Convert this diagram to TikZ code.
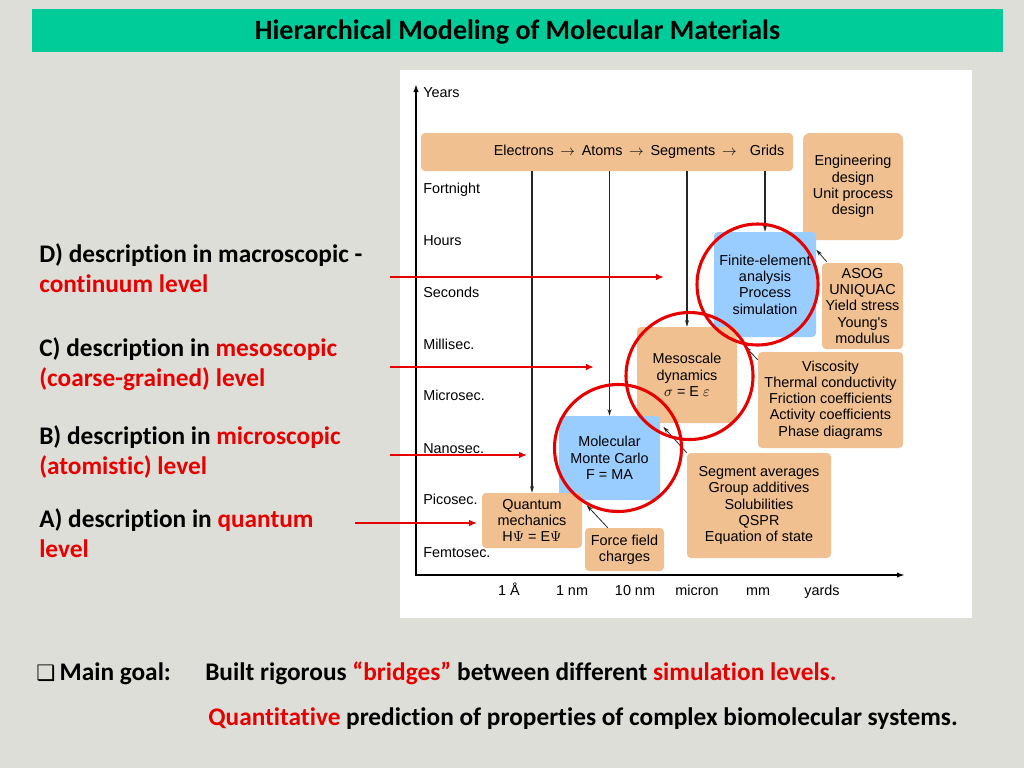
\documentclass[tikz,border=0pt]{standalone}
\usepackage{fontspec}
\setmainfont{Carlito}[Ligatures=NoCommon]
\newfontfamily\diagfont{Liberation Sans}
\newfontfamily\symbolfont{DejaVu Sans}
\usetikzlibrary{arrows.meta}
\definecolor{slideGray}{RGB}{222,222,217}
\definecolor{titleGreen}{RGB}{0,204,153}
\definecolor{boxOrange}{RGB}{240,192,144}
\definecolor{boxBlue}{RGB}{153,204,255}
\definecolor{slideRed}{RGB}{230,0,0}

\begin{document}
\begin{tikzpicture}
[x=0.75pt,y=-0.75pt,
  boxSize/.style 2 args={minimum width=#1*0.75pt,minimum height=#2*0.75pt},%
  boxDecorate/.style={rectangle,rounded corners=3pt,inner sep=0pt,align=center,
    font=\diagfont\fontsize{10.8}{12.2}\selectfont},%
  orangeBox/.style={boxDecorate,fill=boxOrange},%
  blueBox/.style={boxDecorate,fill=boxBlue},%
  tickLabel/.style={inner sep=0pt,font=\diagfont\fontsize{10.8}{12.2}\selectfont},%
  connectDecorate/.style={-{Stealth[length=5pt,width=3pt]},line width=1pt,black!85},%
  axisDecorate/.style={{Latex[length=6pt,width=4pt]}-{Latex[length=6pt,width=4pt]},line width=1.4pt},%
  ringDecorate/.style={circle,draw=slideRed,line width=2.3pt,inner sep=0pt},%
  pointerDecorate/.style={-{Latex[length=6pt,width=5pt]},line width=1.5pt,slideRed},%
  slideText/.style={inner sep=0pt,align=left,anchor=west,
    font=\bfseries\fontsize{19}{22.5}\selectfont}]
%% slide background and title
\useasboundingbox (0,0) rectangle (1024,768);
\fill[slideGray] (0,0) rectangle (1024,768);
\node[fill=titleGreen,boxSize={971}{43},inner sep=0pt,text height=14pt,text depth=0pt,
  font=\bfseries\fontsize{21}{25}\selectfont] (title) at (517.5,30.5)
  {Hierarchical Modeling of Molecular Materials};
\fill[white] (400,70) rectangle (972,618);
%% axes
\coordinate (origin) at (416,575);
\coordinate (yEnd) at (416,84);
\coordinate (xEnd) at (905,575);
\draw[axisDecorate] (yEnd) -- (origin) -- (xEnd);
\foreach \tname/\ty in {Years/92, Fortnight/188, Hours/240, Seconds/292,
  Millisec./344, Microsec./395, Nanosec./448, Picosec./499, Femtosec./552} {
  \node[tickLabel,anchor=base west] (ylab\ty) at (423,\ty+5) {\tname};
}
\foreach \tname/\tx in {1 Å/509, 1 nm/572, 10 nm/635, micron/697, mm/758, yards/822} {
  \node[tickLabel,anchor=base] (xlab\tx) at (\tx,595) {\tname};
}
%% boxes
\node[orangeBox,boxSize={372}{38},text width=266pt,inner xsep=6.5pt,align=right]
  (band) at (607,152) {Electrons\hspace{5pt}$\rightarrow$\hspace{5pt}Atoms\hspace{5pt}$\rightarrow$\hspace{5pt}Segments\hspace{5pt}$\rightarrow$\hspace{10pt}Grids};
\node[orangeBox,boxSize={100}{107},rounded corners=5pt] (eng) at (853,186.5)
  {Engineering\\design\\Unit process\\design};
\node[blueBox,boxSize={102}{105}] (fem) at (765,284.5)
  {Finite-element\\analysis\\Process\\simulation};
\node[orangeBox,boxSize={81}{86}] (asog) at (862.5,306)
  {ASOG\\UNIQUAC\\Yield stress\\Young's\\modulus};
\node[orangeBox,boxSize={100}{96}] (meso) at (687,375)
  {Mesoscale\\dynamics\\$\sigma$ = E $\varepsilon$};
\node[orangeBox,boxSize={145}{96}] (visc) at (830.5,400)
  {Viscosity\\Thermal conductivity\\Friction coefficients\\Activity coefficients\\Phase diagrams};
\node[blueBox,boxSize={101}{84}] (mc) at (609.5,458)
  {Molecular\\Monte Carlo\\F = MA};
\node[orangeBox,boxSize={144}{105}] (seg) at (759,505.5)
  {Segment averages\\Group additives\\Solubilities\\QSPR\\Equation of state};
\node[orangeBox,boxSize={100}{55}] (qm) at (532,520.5)
  {Quantum\\mechanics\\H$\Psi$ = E$\Psi$};
\node[orangeBox,boxSize={79}{43}] (ff) at (624.5,549.5)
  {Force field\\charges};
%% connectors
\foreach \target in {qm, mc, meso, fem} {
  \draw[connectDecorate] (\target.north |- band.south) -- (\target.north);
}
\draw[connectDecorate,line width=0.6pt] ([shift={(5,-1)}]asog.north west) -- ([shift={(0,18)}]fem.north east);
\draw[connectDecorate,line width=0.6pt] ([shift={(0,8)}]visc.north west) -- ([shift={(8,20)}]meso.north east);
\draw[connectDecorate,line width=0.6pt] (seg.north west) -- ([shift={(3,11)}]mc.north east);
\draw[connectDecorate,line width=0.6pt] ([shift={(23,0)}]ff.north west) -- ([shift={(28,5)}]mc.south west);
%% level rings
\foreach \ringname/\x/\y/\r in {ringD/757.5/284.5/60.5, ringC/689.5/376/63.5, ringB/618/448/63.5} {
  \node[ringDecorate,minimum size=2*\r*0.75pt] (\ringname) at (\x,\y) {};
}
%% descriptions
\node[slideText] (descD) at (39,268)
  {D) description in macroscopic -\\\textcolor{slideRed}{continuum level}};
\node[slideText] (descC) at (39,364)
  {C) description in \textcolor{slideRed}{mesoscopic}\\\textcolor{slideRed}{(coarse-grained) level}};
\node[slideText] (descB) at (39,452)
  {B) description in \textcolor{slideRed}{microscopic}\\\textcolor{slideRed}{(atomistic) level}};
\node[slideText] (descA) at (39,533)
  {A) description in \textcolor{slideRed}{quantum}\\\textcolor{slideRed}{level}};
\foreach \level/\tx/\hx/\y in {D/390/664/277, C/390/594/367, B/390/527/455, A/355/477/523} {
  \coordinate (tail\level) at (\tx,\y);
  \coordinate (head\level) at (\hx,\y);
  \draw[pointerDecorate] (tail\level) -- (head\level);
}
%% main goal
\node[slideText,anchor=base west] (goalLabel) at (36,680)
  {{\symbolfont\fontsize{16}{18}\selectfont ❑}\,Main goal:};
\node[slideText,anchor=base west] (goalOne) at (205,680)
  {Built rigorous \textcolor{slideRed}{“bridges”} between different \textcolor{slideRed}{simulation levels.}};
\node[slideText,anchor=base west] (goalTwo) at (208,725)
  {\textcolor{slideRed}{Quantitative} prediction of properties of complex biomolecular systems.};
\end{tikzpicture}
\end{document}
